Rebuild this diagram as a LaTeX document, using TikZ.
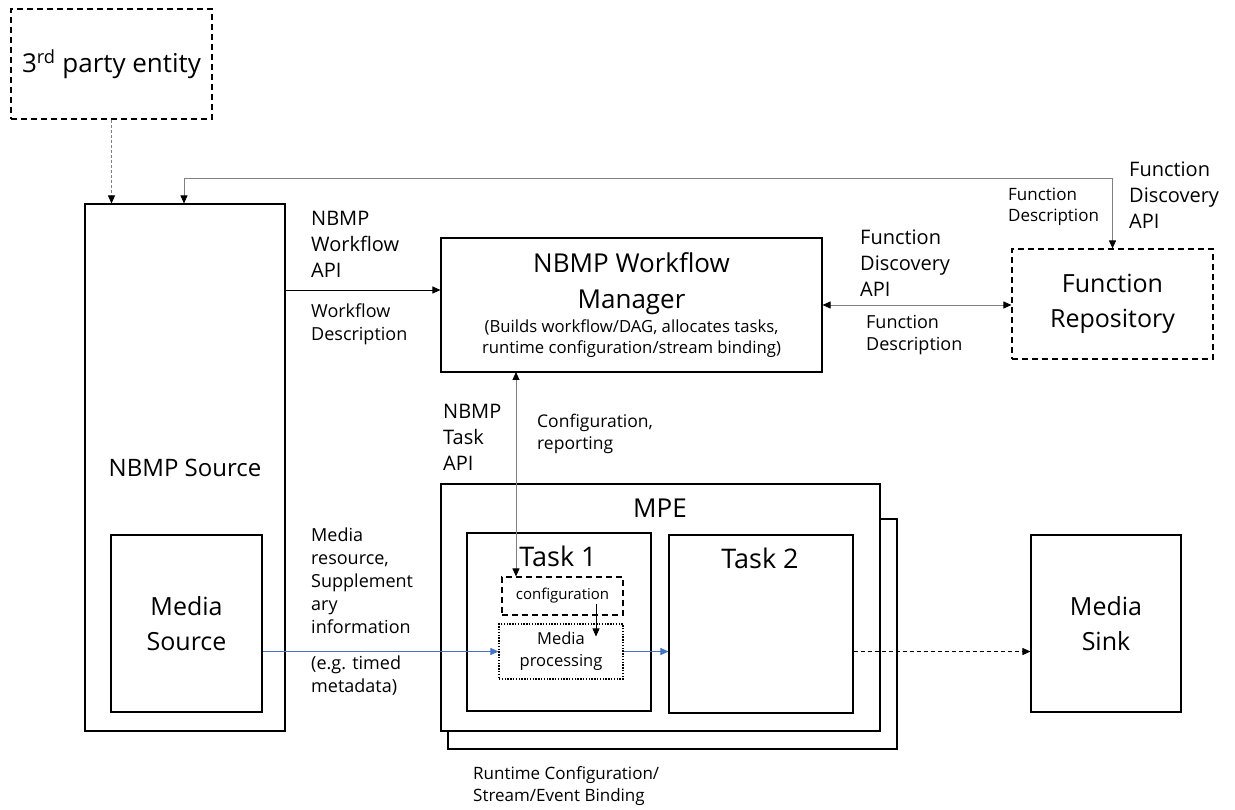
\documentclass[tikz,border=0pt]{standalone}
\usepackage{fontspec}
\setmainfont{Open Sans}
\usepackage{tikz}
\usetikzlibrary{arrows.meta, positioning}
\usepackage{xcolor}

\definecolor{linkgray}{RGB}{128,128,128}
\definecolor{mediablue}{RGB}{68,114,196}

\newcommand{\fs}[2]{\fontsize{#1}{#2}\selectfont}

\tikzset{
    box/.style={draw, line width=1.1pt, inner sep=0pt, align=center, fill=white},
    dashbox/.style={box, dash pattern=on 6pt off 4pt},
    dotbox/.style={box, dash pattern=on 1.4pt off 1.4pt},
    lbl/.style={anchor=west, inner sep=0pt, align=left},
    link/.style={line width=0.9pt, -{Triangle[length=8pt,width=7pt]}},
    graylink/.style={line width=0.9pt, linkgray, -{Triangle[length=8pt,width=7pt,color=black]}},
    dlink/.style={line width=0.9pt, linkgray, {Triangle[length=8pt,width=7pt,color=black]}-{Triangle[length=8pt,width=7pt,color=black]}},
}

\begin{document}
\begin{tikzpicture}[x=1pt, y=-1pt]
        \useasboundingbox (0,0) rectangle (1235,810);

        % Draw 3rd party entity and NBMP source
        \node[dashbox, minimum width=201pt, minimum height=110pt, font=\fs{26}{32}] (third) at (111.5,64) {3\textsuperscript{rd} party entity};
        \node[box, minimum width=200pt, minimum height=527pt, font=\fs{24}{30}] (src) at (185,467.5) {NBMP Source};
        \node[box, minimum width=151pt, minimum height=177pt, font=\fs{25}{35}] (msrc) at (186.5,623.5) {Media\\Source};

        % Draw workflow manager and function repository
        \node[box, minimum width=381pt, minimum height=134pt] (wfm) at (631.5,305) {};
        \node[align=center, inner sep=0pt, font=\fs{26}{36}] at (631.5,284) (wfmtitle) {NBMP Workflow\\Manager};
        \node[align=center, inner sep=0pt, font=\fs{16.7}{21}] at (631.5,338.5) (wfmsub) {(Builds workflow/DAG, allocates tasks,\\runtime configuration/stream binding)};
        \node[dashbox, minimum width=201pt, minimum height=110pt, font=\fs{25}{35}] (frepo) at (1112.5,304) {Function\\Repository};

        % Draw MPE with its two tasks
        \node[box, minimum width=449pt, minimum height=230pt] (mpeback) at (672.5,634) {};
        \node[box, minimum width=439pt, minimum height=247pt] (mpe) at (660.5,607.5) {};
        \node[font=\fs{26}{30}] at (660,508) (mpetitle) {MPE};
        \node[box, minimum width=184pt, minimum height=178pt] (task1) at (559,622) {};
        \node[font=\fs{27}{30}] at (558,556) (task1title) {Task 1};
        \node[box, minimum width=184pt, minimum height=178pt] (task2) at (761,624) {};
        \node[font=\fs{27}{30}] at (760,558) (task2title) {Task 2};
        \node[dashbox, minimum width=121pt, minimum height=38pt, font=\fs{15}{18}] (cfg) at (562.5,596) {configuration};
        \node[dotbox, minimum width=124pt, minimum height=55pt, font=\fs{16.5}{22}] (mproc) at (561,651.5) {Media\\processing};

        % Draw media sink
        \node[box, minimum width=150pt, minimum height=177pt, font=\fs{25}{35}] (msink) at (1106,623.5) {Media\\Sink};

        % Connectors
        \draw[graylink, dash pattern=on 3pt off 2pt, line width=0.8pt] (third.south) -- (third.south |- src.north);
        \coordinate (fb) at (184,178);
        \draw[dlink] (fb |- src.north) -- (fb) -- (fb -| frepo.north) -- (frepo.north);
        \coordinate (wfin) at ([yshift=15pt]wfm.west);
        \draw[link] (wfin -| src.east) -- (wfin);
        \draw[dlink] (wfm.east) -- (wfm.east -| frepo.west);
        \coordinate (tapi) at (516,372);
        \draw[dlink] (tapi) -- (tapi |- cfg.north);
        \draw[link, line width=0.7pt] ([xshift=33.5pt,yshift=-8pt]cfg.center) -- ([xshift=35pt,yshift=-13pt]mproc.north);
        \draw[link, mediablue] (mproc.west -| msrc.east) -- (mproc.west);
        \draw[link, mediablue] (mproc.east) -- (mproc.east -| task2.west);
        \draw[link, dash pattern=on 4pt off 3pt, line width=0.8pt] (mproc.east -| task2.east) -- (mproc.east -| msink.west);

        % Connector labels
        \node[lbl, font=\fs{20}{26}] at (311,244) (wfapi) {NBMP\\Workflow\\API};
        \node[lbl, font=\fs{18}{23}] at (311,324.5) (wfdesc) {Workflow\\Description};
        \node[lbl, font=\fs{20}{26}] at (860,263) (fdapi) {Function\\Discovery\\API};
        \node[lbl, font=\fs{18}{22}] at (866,335.5) (fdesc) {Function\\Description};
        \node[lbl, font=\fs{20}{26}] at (1129,195) (fdapitop) {Function\\Discovery\\API};
        \node[lbl, font=\fs{17}{21}] at (1008,207) (fdesctop) {Function\\Description};
        \node[lbl, font=\fs{20}{26}] at (443,437) (taskapi) {NBMP\\Task\\API};
        \node[lbl, font=\fs{17.5}{22}] at (537,434) (cfgrep) {Configuration,\\reporting};
        \node[lbl, font=\fs{18}{23}] at (311,580.5) (mres) {Media\\resource,\\Supplement\\ary\\information};
        \node[lbl, font=\fs{18}{23}] at (311,676) (meta) {(e.g. timed\\metadata)};
        \node[lbl, font=\fs{17}{22}] at (473,786) (rtbind) {Runtime Configuration/\\Stream/Event Binding};
    \end{tikzpicture}
\end{document}
